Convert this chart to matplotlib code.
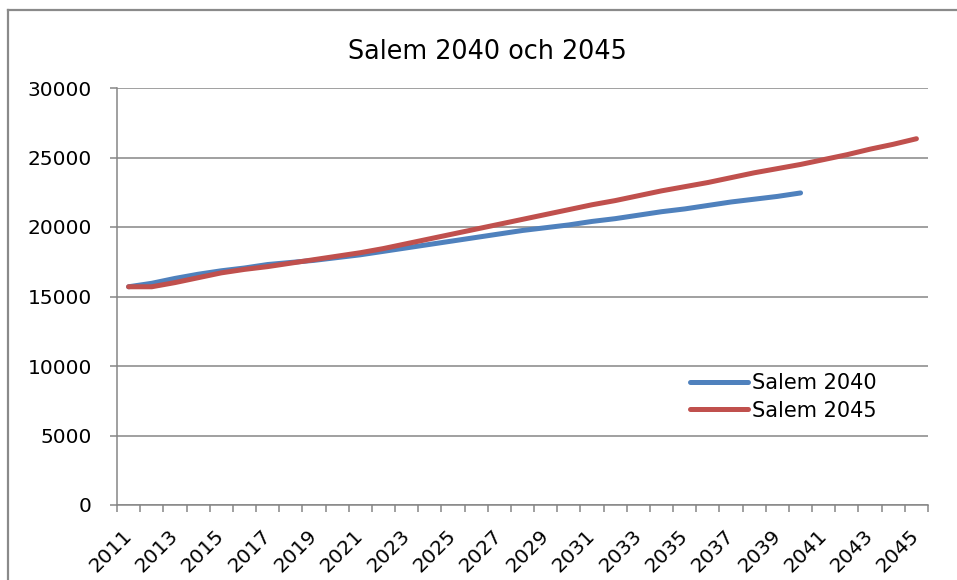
import matplotlib.pyplot as plt
from matplotlib.lines import Line2D
import numpy as np

years = list(range(2011, 2046))
salem_2040 = [15700, 15950, 16300, 16600, 16850, 17050, 17300, 17450, 17600, 17800,
              18000, 18250, 18500, 18750, 19000, 19250, 19500, 19750, 19950, 20150,
              20400, 20600, 20850, 21100, 21300, 21550, 21800, 22000, 22200, 22450]
salem_2045 = [15700, 15700, 16000, 16350, 16700, 16950, 17150, 17400, 17650, 17900,
              18150, 18450, 18800, 19150, 19500, 19850, 20200, 20550, 20900, 21250,
              21600, 21900, 22250, 22600, 22900, 23200, 23550, 23900, 24200, 24500,
              24850, 25200, 25600, 25950, 26350]
year_labels = [str(y) for y in years[::2]]

grey = '#868686'
fig = plt.figure(figsize=(9.57, 5.80), dpi=100)
ax = fig.add_axes([117/957, 75/580, (928-117)/957, (505-88)/580])

x1 = np.arange(len(salem_2040))
x2 = np.arange(len(salem_2045))
ax.plot(x1, salem_2040, color='#4F81BD', lw=3.6, label='Salem 2040', solid_capstyle='round')
ax.plot(x2, salem_2045, color='#C0504D', lw=3.6, label='Salem 2045', solid_capstyle='round')

ax.set_ylim(0, 30000)
ax.set_yticks(range(0, 30001, 5000))
ax.yaxis.grid(True, color=grey, lw=1.1)
ax.set_axisbelow(True)
ax.set_xlim(-0.5, len(years) - 0.5)
ax.set_xticks(np.arange(0, len(years), 2))
ax.set_xticklabels(year_labels, rotation=45, ha='right', va='center', rotation_mode='anchor')
ax.set_xticks(np.arange(-0.5, len(years)), minor=True)
ax.tick_params(axis='x', which='major', length=0, pad=20, labelsize=14.5)
ax.tick_params(axis='x', which='minor', length=5, color=grey, width=1.1)
ax.tick_params(axis='y', length=5, color=grey, width=1.1, pad=13, labelsize=14.5)

for s in ['top', 'right']:
    ax.spines[s].set_visible(False)
for s in ['left', 'bottom']:
    ax.spines[s].set_color(grey)
    ax.spines[s].set_linewidth(1.1)

fig.text(487/957, 1 - 52/580, 'Salem 2040 och 2045', ha='center', va='center', fontsize=18.4)

ax.legend(loc='center left', bbox_to_anchor=(690/957, 1 - 397/580), bbox_transform=fig.transFigure,
          frameon=False, fontsize=15, handlelength=2.8, handletextpad=0.2,
          labelspacing=0.35, borderpad=0, borderaxespad=0)

# chart area border (only top and left visible)
fig.add_artist(Line2D([8/957, 8/957], [0, 1 - 10/580], color='#8a8a8a', lw=1.6, transform=fig.transFigure))
fig.add_artist(Line2D([8/957, 1], [1 - 10/580, 1 - 10/580], color='#8a8a8a', lw=1.6, transform=fig.transFigure))

fig.savefig('out.png', dpi=100)
